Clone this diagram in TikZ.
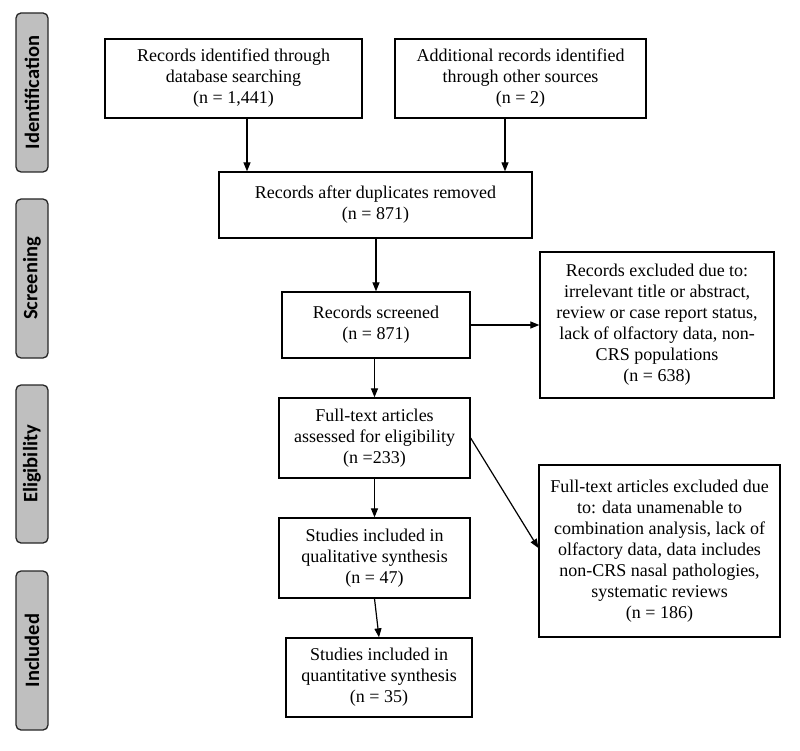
\documentclass[tikz,border=0pt]{standalone}
\usepackage{fontspec}
\setmainfont{Liberation Serif}
\newfontfamily\sidefont{Carlito}
\usetikzlibrary{arrows.meta,calc}
\begin{document}
\begin{tikzpicture}[x=1pt,y=-1pt,
  box/.style={draw=black,line width=1.3pt,align=center,inner sep=2pt,
    font=\fontsize{18}{21}\selectfont},
  side/.style={draw=black!85,line width=1.3pt,fill=black!25,rounded corners=5pt,
    rotate=90,minimum height=32pt,inner sep=0pt,
    font=\sidefont\bfseries\fontsize{20.5}{22}\selectfont},
  arr/.style={line width=1.2pt,-{Triangle[length=9pt,width=7pt]}}]
\useasboundingbox (0,0) rectangle (800,751);
% side labels
\node[side,minimum width=159pt] (sid) at (32,92.5) {Identification};
\node[side,minimum width=159pt] (ssc) at (32,278.5) {Screening};
\node[side,minimum width=158pt] (sel) at (32,464) {Eligibility};
\node[side,minimum width=159pt] (sin) at (32,650.5) {Included};
% boxes
\node[box,minimum width=257pt,minimum height=79pt] (b1) at (233.5,78.5)
  {Records identified through\\database searching\\(n = 1,441)};
\node[box,minimum width=251pt,minimum height=79pt] (b2) at (520.5,78.5)
  {Additional records identified\\through other sources\\(n = 2)};
\node[box,minimum width=313pt,minimum height=66pt] (b3) at (375.5,205)
  {Records after duplicates removed\\(n = 871)};
\node[box,minimum width=188pt,minimum height=66pt] (scr) at (376,325)
  {Records screened\\(n = 871)};
\node[box,minimum width=234pt,minimum height=146pt] (ex1) at (657,325)
  {Records excluded due to:\\irrelevant title or abstract,\\review or case report status,\\lack of olfactory data, non-\\CRS populations\\(n = 638)};
\node[box,minimum width=191pt,minimum height=80pt] (ft) at (374.5,438)
  {Full-text articles\\assessed for eligibility\\(n =233)};
\node[box,minimum width=191pt,minimum height=80pt] (qual) at (374.5,558)
  {Studies included in\\qualitative synthesis\\(n = 47)};
\node[box,minimum width=186pt,minimum height=79pt] (quant) at (379,677.5)
  {Studies included in\\quantitative synthesis\\(n = 35)};
\node[box,minimum width=241pt,minimum height=172pt] (ex2) at (659.5,551)
  {Full-text articles excluded due\\to: data unamenable to\\combination analysis, lack of\\olfactory data, data includes\\non-CRS nasal pathologies,\\systematic reviews\\(n = 186)};
% connectors
\coordinate (xa) at (247,0);
\coordinate (xb) at (505,0);
\draw[arr] (xa |- b1.south) -- (xa |- b3.north);
\draw[arr] (xb |- b2.south) -- (xb |- b3.north);
\draw[arr] (scr.north |- b3.south) -- (scr.north);
\draw[arr] (scr.east) -- (scr.east -| ex1.west);
\draw[arr] (scr.south -| ft.north) -- (ft.north);
\draw[arr] (ft.south) -- (qual.north);
\draw[arr] (ft.east) -- ($(ex2.west)+(0,-3)$);
\draw[arr] (qual.south) -- (quant.north);
\end{tikzpicture}
\end{document}
